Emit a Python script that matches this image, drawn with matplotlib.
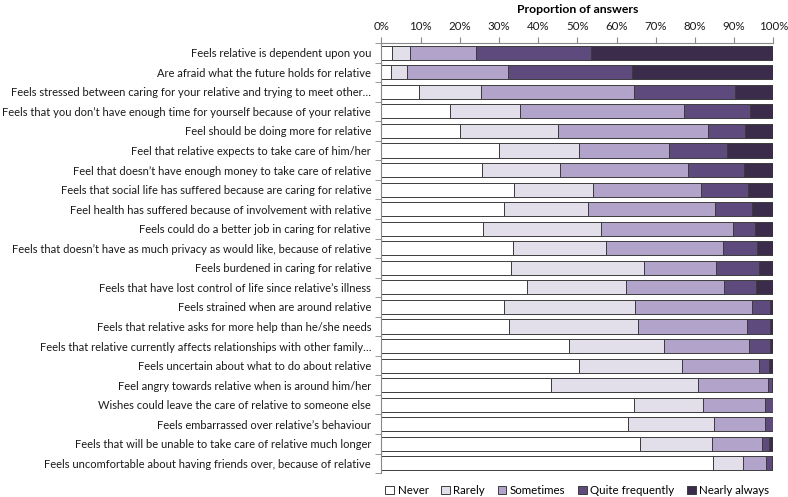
import numpy as np
import matplotlib.pyplot as plt
from matplotlib.ticker import FixedLocator, PercentFormatter

plt.rcParams['font.family'] = ['Lato', 'DejaVu Sans']

# Items, top to bottom
items = [
    "Feels relative is dependent upon you",
    "Are afraid what the future holds for relative",
    "Feels stressed between caring for your relative and trying to meet other\u2026",
    "Feels that you don\u2019t have enough time for yourself because of your relative",
    "Feel should be doing more for relative",
    "Feel that relative expects to take care of him/her",
    "Feel that doesn\u2019t have enough money to take care of relative",
    "Feels that social life has suffered because are caring for relative",
    "Feel health has suffered because of involvement with relative",
    "Feels could do a better job in caring for relative",
    "Feels that doesn\u2019t have as much privacy as would like, because of relative",
    "Feels burdened in caring for relative",
    "Feels that have lost control of life since relative\u2019s illness",
    "Feels strained when are around relative",
    "Feels that relative asks for more help than he/she needs",
    "Feels that relative currently affects relationships with other family\u2026",
    "Feels uncertain about what to do about relative",
    "Feel angry towards relative when is around him/her",
    "Wishes could leave the care of relative to someone else",
    "Feels embarrassed over relative\u2019s behaviour",
    "Feels that will be unable to take care of relative much longer",
    "Feels uncomfortable about having friends over, because of relative",
]

answers = ["Never", "Rarely", "Sometimes", "Quite frequently", "Nearly always"]

# proportions (%)
never = [2.8, 2.4, 9.7, 17.6, 20.0, 30.1, 25.7, 33.9, 31.4, 26.0, 33.6,
         33.0, 37.2, 31.3, 32.6, 47.8, 50.5, 43.3, 64.5, 63.0, 66.1, 84.6]
rarely = [4.6, 4.1, 15.6, 17.7, 25.1, 20.4, 19.9, 20.0, 21.3, 30.0, 23.8,
          34.0, 25.3, 33.5, 33.0, 24.4, 26.2, 37.4, 17.6, 21.9, 18.2, 7.7]
sometimes = [16.6, 25.9, 39.2, 41.9, 38.3, 22.8, 32.7, 27.7, 32.4, 33.8, 29.8,
             18.5, 24.9, 29.9, 27.8, 21.7, 19.6, 17.9, 15.8, 13.0, 12.8, 5.9]
quite_freq = [29.6, 31.5, 25.8, 16.8, 9.5, 15.0, 14.3, 12.0, 9.5, 5.6, 8.7,
              10.9, 8.3, 4.5, 5.8, 5.3, 2.6, 1.2, 2.0, 2.1, 1.8, 1.4]
nearly_always = [46.4, 36.1, 9.7, 6.0, 7.1, 11.7, 7.4, 6.4, 5.4, 4.6, 4.1,
                 3.6, 4.3, 0.8, 0.8, 0.8, 1.1, 0.2, 0.1, 0.0, 1.1, 0.4]

colors = ['#ffffff', '#e3dfea', '#b1a3c9', '#5e4a7d', '#3a2c4a']

series = [never, rarely, sometimes, quite_freq, nearly_always]

fig = plt.figure(figsize=(7.88, 4.97), dpi=100)
ax = fig.add_axes([0.4841, 0.048, 0.4972, 0.8655])

y = np.arange(len(items))
left = np.zeros(len(items))
for vals, name, c in zip(series, answers, colors):
    vals = np.array(vals)
    ax.barh(y, vals, left=left, height=0.72, color=c, edgecolor='#3c3c3c',
            linewidth=0.7, label=name)
    left += vals

ax.set_ylim(len(items) - 0.5, -0.5)
ax.set_xlim(0, 100)

ax.set_yticks(y)
ax.set_yticklabels(items, fontsize=8.0, color='#1a1a1a')
ax.tick_params(axis='y', length=0, pad=7.5)
ax.yaxis.set_minor_locator(FixedLocator(np.arange(-0.5, len(items), 1)))
ax.tick_params(axis='y', which='minor', length=4, color='#888888')

ax.xaxis.tick_top()
ax.xaxis.set_label_position('top')
ax.set_xticks(np.arange(0, 101, 10))
ax.xaxis.set_major_formatter(PercentFormatter(decimals=0))
ax.tick_params(axis='x', length=4, color='#888888', labelsize=8.3,
               labelcolor='#1a1a1a', pad=4)
ax.set_xlabel('Proportion of answers', fontsize=8.8, fontweight='bold',
              labelpad=6)

for side in ['right', 'bottom']:
    ax.spines[side].set_visible(False)
for side in ['top', 'left']:
    ax.spines[side].set_color('#888888')
    ax.spines[side].set_linewidth(0.8)

ax.legend(loc='center', bbox_to_anchor=(0.5, -0.04), ncol=5,
          frameon=False, fontsize=8.3, handlelength=0.75, handleheight=0.75,
          handletextpad=0.3, columnspacing=1.1, borderpad=0.1)

fig.savefig('out.png', dpi=100)
